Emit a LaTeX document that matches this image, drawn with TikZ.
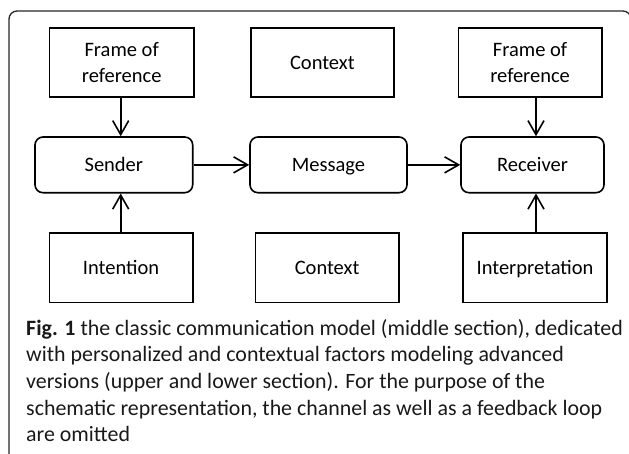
\documentclass[tikz,border=0pt]{standalone}
\usepackage{fontspec}
\setmainfont{Carlito}
\usetikzlibrary{arrows.meta}
\begin{document}
\begin{tikzpicture}[x=1pt,y=-1pt,
  box/.style={draw, line width=1.6pt, inner sep=0pt, align=center,
              font=\fontsize{20.5}{26.5}\selectfont},
  onebox/.style={box, text height=13.2pt, text depth=0pt},
  rbox/.style={onebox, rounded corners=8pt},
  link/.style={line width=1.6pt,
               -{Straight Barb[length=14pt,width=16pt,line width=1.6pt]}},
  captext/.style={anchor=base west, inner sep=0pt, text=black!90,
                  font=\fontsize{21.9}{26.6}\selectfont},
  frameline/.style={line width=1.3pt, draw=black!85, rounded corners=8pt}]

\useasboundingbox (0,0) rectangle (629,453);

% outer figure frame
\draw[frameline] (9,455) -- (9,11) -- (631,11) -- (631,455);

% upper row: personal and contextual factors
\node[box, minimum width=144.7pt, minimum height=69pt] (forl) at (121.65,62.65) {Frame of\\reference};
\node[onebox, minimum width=143.3pt, minimum height=69pt] (ctxt) at (322.35,62.65) {Context};
\node[box, minimum width=143.2pt, minimum height=69pt] (forr) at (530.1,62.65) {Frame of\\reference};

% middle row: classic model
\node[rbox, minimum width=157.7pt, minimum height=55.7pt] (sender) at (113.85,164.85) {Sender};
\node[rbox, minimum width=157pt, minimum height=55.7pt] (message) at (328.5,164.85) {Message};
\node[rbox, minimum width=143pt, minimum height=55.7pt] (receiver) at (532.5,164.85) {Receiver};

% lower row
\node[onebox, minimum width=143.4pt, minimum height=69.5pt] (intent) at (121,267.75) {Intention};
\node[onebox, minimum width=143.2pt, minimum height=69.5pt] (ctxb) at (327.1,267.75) {Context};
\node[onebox, minimum width=144pt, minimum height=69.5pt] (interp) at (535,267.75) {Interpretation};

% connectors
\coordinate (colL) at (120.7,0);
\coordinate (colR) at (536,0);
\draw[link] (forl.south -| colL) -- (sender.north -| colL);
\draw[link] (forr.south -| colR) -- (receiver.north -| colR);
\draw[link] (intent.north -| colL) -- (sender.south -| colL);
\draw[link] (interp.north -| colR) -- (receiver.south -| colR);
\draw[link] (sender.east) -- (message.west);
\draw[link] (message.east) -- (receiver.west);

% caption
\node[captext] (cap1) at (26,335) {\textbf{Fig. 1} the classic communication model (middle section), dedicated};
\node[captext] (cap2) at (26,361.7) {with personalized and contextual factors modeling advanced};
\node[captext] (cap3) at (26,388.3) {versions (upper and lower section). For the purpose of the};
\node[captext] (cap4) at (26,415) {schematic representation, the channel as well as a feedback loop};
\node[captext] (cap5) at (26,441.6) {are omitted};
\end{tikzpicture}
\end{document}
